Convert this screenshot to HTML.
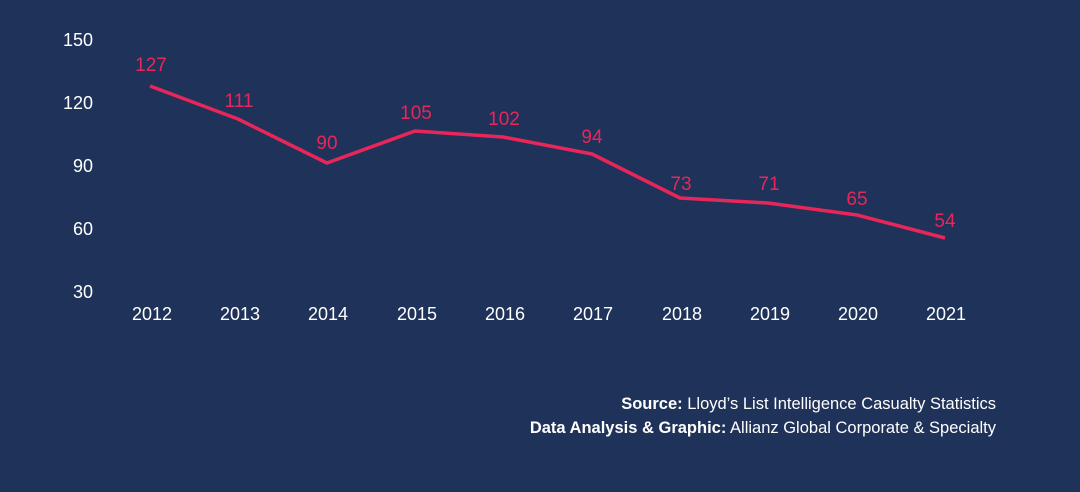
<!DOCTYPE html>
<html><head><meta charset="utf-8"><style>
body{margin:0;width:1080px;height:487px;background:#1f3259;overflow:hidden}
svg text{font-family:"Liberation Sans",sans-serif}
</style></head><body>
<svg width="1080" height="487" xmlns="http://www.w3.org/2000/svg">
<rect width="1080" height="487" fill="#1f3259"/>
<g fill="#fff" font-size="18" text-anchor="end">
<text x="93" y="46">150</text><text x="93" y="109">120</text><text x="93" y="172">90</text><text x="93" y="235">60</text><text x="93" y="298">30</text>
</g>
<g fill="#fff" font-size="18" text-anchor="middle">
<text x="152" y="320">2012</text><text x="240" y="320">2013</text><text x="328" y="320">2014</text><text x="417" y="320">2015</text><text x="505" y="320">2016</text><text x="593" y="320">2017</text><text x="682" y="320">2018</text><text x="770" y="320">2019</text><text x="858" y="320">2020</text><text x="946" y="320">2021</text>
</g>
<polyline fill="none" stroke="#e8265a" stroke-width="3.5" stroke-linejoin="round" points="150,86 238,119 327,163 415,131 503,137 592,154 680,198 768,203 857,215 945,238"/>
<g fill="#e8265a" font-size="19" text-anchor="middle">
<text x="151" y="71">127</text><text x="239" y="107">111</text><text x="327" y="149">90</text><text x="416" y="119">105</text><text x="504" y="125">102</text><text x="592" y="143">94</text><text x="681" y="190">73</text><text x="769" y="190">71</text><text x="857" y="205">65</text><text x="945" y="227">54</text>
</g>
<g fill="#fff" font-size="16.5" text-anchor="end">
<text x="996" y="409"><tspan font-weight="bold">Source:</tspan> Lloyd’s List Intelligence Casualty Statistics</text>
<text x="996" y="433"><tspan font-weight="bold">Data Analysis &amp; Graphic:</tspan> Allianz Global Corporate &amp; Specialty</text>
</g>
</svg>
</body></html>
